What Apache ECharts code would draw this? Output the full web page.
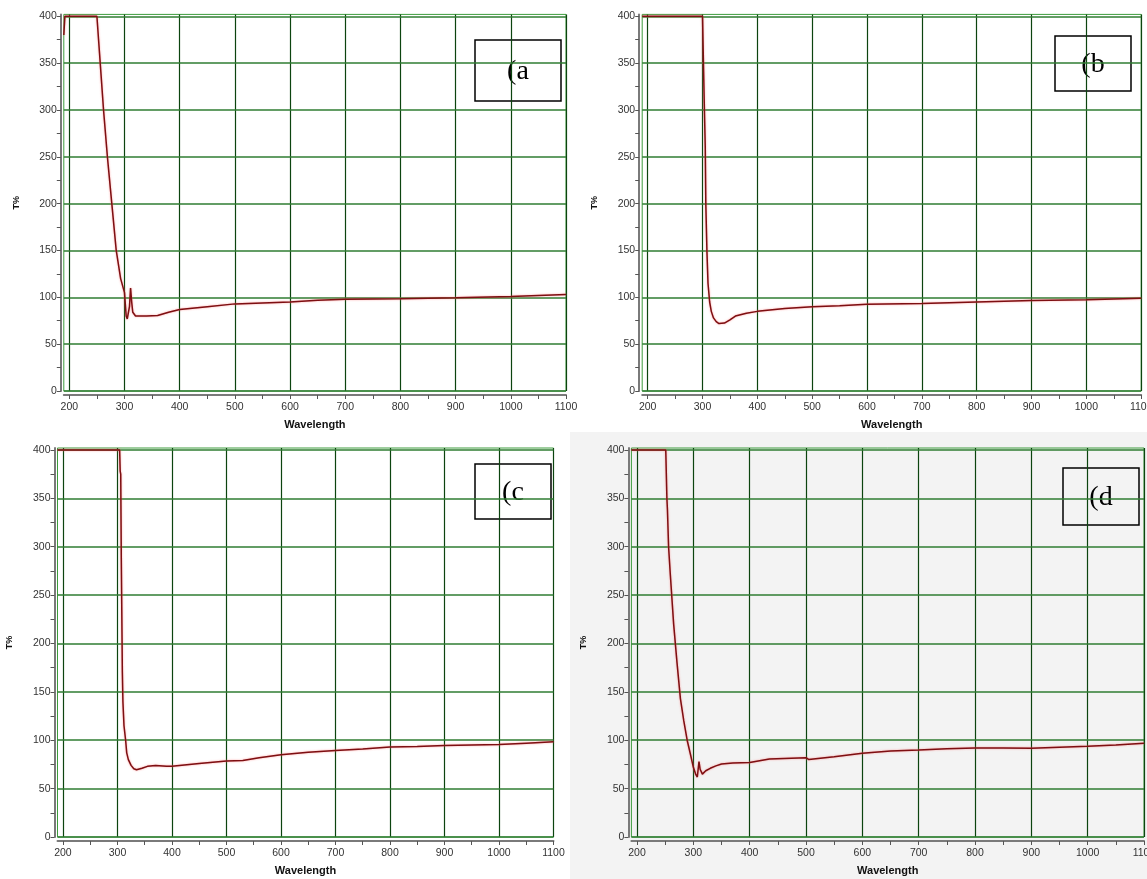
<!DOCTYPE html>
<html>
<head>
<meta charset="utf-8">
<script src="https://cdn.jsdelivr.net/npm/echarts@6/dist/echarts.min.js"></script>
<style>
  html, body { margin: 0; padding: 0; background: #ffffff; }
  #chart { width: 1147px; height: 879px; }
</style>
</head>
<body>
<div id="chart"></div>
<script>
// Transmittance spectra (T%) against wavelength (nm) for four samples.
const waveA = [190, 192, 250, 253, 256, 262, 269, 277, 285, 293, 300, 303, 305, 307, 309, 311, 313, 315, 320, 340, 360, 380, 400, 450, 500, 550, 600, 650, 700, 800, 900, 1000, 1100];
const tA    = [380, 400, 400, 375, 350, 300, 250, 200, 150, 120, 105, 80, 77, 75, 90, 110, 95, 84, 80, 80, 80.5, 84, 87, 90, 93, 94, 95, 97, 98, 98.5, 99.5, 101, 103];

const waveB = [190, 300, 301, 302, 303, 304, 305, 306, 308, 310, 313, 316, 320, 325, 330, 340, 350, 360, 380, 400, 450, 500, 550, 600, 700, 800, 900, 1000, 1100];
const tB    = [400, 400, 370, 370, 312, 312, 260, 200, 150, 115, 95, 85, 78, 74, 72, 72.5, 76, 80, 83, 85, 88, 90, 91, 92.5, 93.5, 95, 96.5, 97.5, 99];

const waveC = [190, 304, 305, 306, 307, 308, 309, 310, 312, 315, 317, 320, 325, 330, 335, 345, 355, 370, 390, 400, 450, 500, 530, 560, 600, 650, 700, 750, 800, 850, 900, 950, 1000, 1050, 1100];
const tC    = [400, 400, 378, 375, 290, 230, 170, 140, 115, 100, 87, 80, 74, 70.5, 69.5, 71, 73, 74, 73, 73, 76, 78.5, 79, 82, 85, 87.5, 89.5, 91, 93, 93.5, 94.5, 95, 95.5, 97, 98.5];

const waveD = [190, 251, 253, 254, 256, 259, 265, 271, 277, 283, 289, 295, 300, 304, 307, 309, 310, 312, 316, 322, 330, 340, 350, 370, 400, 435, 500, 505, 550, 600, 650, 700, 750, 800, 850, 900, 950, 1000, 1050, 1100];
const tD    = [400, 400, 350, 338, 300, 272, 220, 180, 143, 120, 100, 85, 72, 65, 62, 63, 78, 70, 65, 68.5, 71, 73.5, 75.5, 76.5, 77, 80.5, 82, 80, 83, 86.5, 89, 90, 91.3, 92, 92, 91.7, 92.7, 93.7, 95, 97];

// Axis labels, ticks and grid positions
const waveLabels = [200, 300, 400, 500, 600, 700, 800, 900, 1000, 1100];
const waveTicks  = [200, 250, 300, 350, 400, 450, 500, 550, 600, 650, 700, 750, 800, 850, 900, 950, 1000, 1050, 1100];
const tLabels    = [0, 50, 100, 150, 200, 250, 300, 350, 400];
const tTicks     = [0, 25, 50, 75, 100, 125, 150, 175, 200, 225, 250, 275, 300, 325, 350, 375, 400];
const panelTags  = ['(a', '(b', '(c', '(d'];

const WAVE_MIN = 190, WAVE_MAX = 1100, T_MIN = 0, T_MAX = 402;

const panels = [
  { wave: waveA, t: tA, grid: { left: 63.8, top: 14.4, width: 502.2, height: 376.6 }, bg: '#ffffff', tag: { x: 475, y: 40, w: 86, h: 61 } },
  { wave: waveB, t: tB, grid: { left: 642.2, top: 14.4, width: 499, height: 376.6 }, bg: '#ffffff', tag: { x: 1055, y: 36, w: 76, h: 55 } },
  { wave: waveC, t: tC, grid: { left: 57.5, top: 448, width: 496, height: 389 }, bg: '#ffffff', tag: { x: 475, y: 464, w: 76, h: 55 } },
  { wave: waveD, t: tD, grid: { left: 631.4, top: 448, width: 512.6, height: 389 }, bg: '#f3f3f3', tag: { x: 1063, y: 468, w: 76, h: 57 } }
];

const FONT = '"Liberation Sans", Arial, sans-serif';
const V_GRID = '#0c440f';
const H_GRID = '#2f7d32';
const FRAME = '#3c9c3c';
const CURVE = '#7d0f12';
const plain = v => String(v);

const grids = [], xAxes = [], yAxes = [], series = [], graphics = [];

// light grey backdrop behind the fourth panel
graphics.push({
  type: 'rect', z: -10, silent: true,
  shape: { x: 570, y: 432, width: 577, height: 447 },
  style: { fill: '#f3f3f3' }
});

panels.forEach((p, i) => {
  grids.push(Object.assign({
    show: true, backgroundColor: p.bg, borderColor: FRAME, borderWidth: 1,
    containLabel: false, outerBoundsMode: 'none'
  }, p.grid));

  xAxes.push({
    type: 'value', gridIndex: i, min: WAVE_MIN, max: WAVE_MAX, offset: 4,
    axisLine: { show: true, onZero: false, lineStyle: { color: '#7a7a7a', width: 2 } },
    axisTick: { show: true, customValues: waveTicks, length: 4, lineStyle: { color: '#555555' } },
    axisLabel: { customValues: waveLabels, formatter: plain, fontSize: 10.5, color: '#333333', margin: 7,
                 fontFamily: FONT, alignMinLabel: 'center', alignMaxLabel: 'center', hideOverlap: false },
    splitLine: { show: false },
    name: 'Wavelength', nameLocation: 'middle', nameGap: 24,
    nameTextStyle: { fontWeight: 'bold', fontSize: 11, color: '#111111', fontFamily: FONT }
  });

  yAxes.push({
    type: 'value', gridIndex: i, min: T_MIN, max: T_MAX, offset: 3,
    axisLine: { show: true, onZero: false, lineStyle: { color: '#7a7a7a', width: 2 } },
    axisTick: { show: true, customValues: tTicks, length: 4, lineStyle: { color: '#555555' } },
    axisLabel: { customValues: tLabels, formatter: plain, fontSize: 10.5, color: '#333333', margin: 4, fontFamily: FONT },
    splitLine: { show: false },
    name: 'T%', nameLocation: 'middle', nameRotate: 90, nameGap: 40,
    nameTextStyle: { fontWeight: 'bold', fontSize: 9, color: '#111111', fontFamily: FONT }
  });

  // grid lines of the spectrometer plot
  series.push({
    type: 'line', xAxisIndex: i, yAxisIndex: i, data: [], z: 1, silent: true,
    markLine: {
      silent: true, symbol: 'none', animation: false,
      label: { show: false },
      data: waveLabels.map(v => ({ xAxis: v, lineStyle: { color: V_GRID, width: 1.2, type: 'solid' } }))
        .concat(tLabels.map(v => ({ yAxis: v, lineStyle: { color: H_GRID, width: 1.5, type: 'solid' } })))
    }
  });

  // measured spectrum
  series.push({
    type: 'line', xAxisIndex: i, yAxisIndex: i, z: 5,
    data: p.wave.map((w, k) => [w, p.t[k]]),
    showSymbol: false, smooth: false, clip: true, animation: false,
    lineStyle: { color: CURVE, width: 1.5, shadowColor: 'rgba(255,110,110,0.7)', shadowBlur: 2 }
  });

  // sample tag box
  graphics.push({
    type: 'group', z: 100,
    children: [
      { type: 'rect', shape: { x: p.tag.x, y: p.tag.y, width: p.tag.w, height: p.tag.h },
        style: { fill: p.bg, stroke: '#000000', lineWidth: 1.5 } },
      { type: 'text', x: p.tag.x + p.tag.w / 2, y: p.tag.y + p.tag.h / 2 + 1,
        style: { text: panelTags[i], fill: '#000000', font: '28px "Liberation Serif", "Times New Roman", serif',
                 align: 'center', verticalAlign: 'middle' } }
    ]
  });
});

const chart = echarts.init(document.getElementById('chart'), null, { renderer: 'canvas' });
chart.setOption({
  animation: false,
  backgroundColor: '#ffffff',
  grid: grids,
  xAxis: xAxes,
  yAxis: yAxes,
  series: series,
  graphic: graphics
});
</script>
</body>
</html>
